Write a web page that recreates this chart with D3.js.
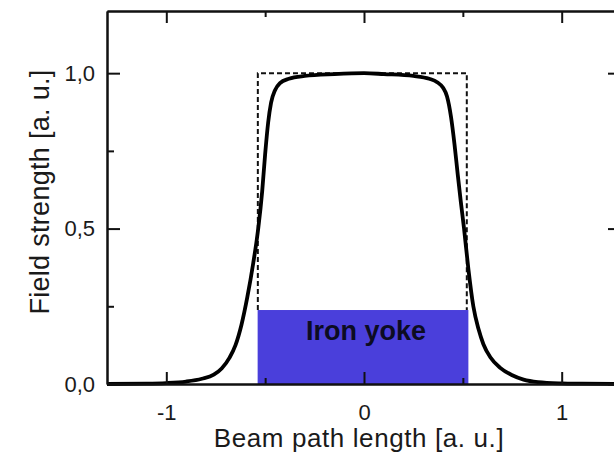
<!DOCTYPE html>
<html>
<head>
<meta charset="utf-8">
<script src="https://cdn.jsdelivr.net/npm/d3@7"></script>
<style>
  body { margin: 0; background: #fff; }
  text { font-family: Arial, "Liberation Sans", Helvetica, sans-serif; fill: #1a1a1a; }
</style>
</head>
<body>
<div id="chart"></div>
<script>
// field profile
const fieldX = [-1.3, -1.1, -1.0, -0.9, -0.82, -0.76, -0.72, -0.68, -0.65, -0.62, -0.59, -0.56, -0.535, -0.515,
  -0.5, -0.485, -0.47, -0.45, -0.425, -0.38, -0.3, -0.15, 0, 0.1, 0.25, 0.33, 0.37, 0.4, 0.42, 0.44,
  0.458, 0.474, 0.49, 0.506, 0.528, 0.553, 0.58, 0.604, 0.64, 0.689, 0.75, 0.807, 0.88, 1.0, 1.1, 1.3];
const fieldY = [0, 0.001, 0.003, 0.008, 0.017, 0.03, 0.05, 0.085, 0.125, 0.19, 0.28, 0.39, 0.5, 0.62,
  0.74, 0.84, 0.905, 0.945, 0.968, 0.982, 0.991, 0.997, 1.0, 0.997, 0.991, 0.982, 0.971, 0.953, 0.925, 0.86,
  0.77, 0.675, 0.585, 0.5, 0.37, 0.25, 0.175, 0.128, 0.085, 0.052, 0.028, 0.014, 0.006, 0.002, 0.001, 0];

// ideal hard-edge field and yoke block
const idealStart = -0.537, idealEnd = 0.52, idealLevel = 1.0;
const yokeStart = -0.538, yokeEnd = 0.528, yokeHeight = 0.238;
const yokeLabel = 'Iron yoke';

const xDomain = [-1.3, 1.3];
const yDomain = [0, 1.2];
const xMajor = [-1, 0, 1];
const xMinor = [-0.5, 0.5];
const yMajor = [0, 0.5, 1.0];
const yMinor = [0.25, 0.75];
const xTitle = 'Beam path length [a. u.]';
const yTitle = 'Field strength [a. u.]';

const width = 614, height = 456;
const margin = { left: 107, top: 11, right: -7, bottom: 72 };
const plotW = width - margin.left - margin.right;
const plotH = height - margin.top - margin.bottom;

const svg = d3.select('#chart').append('svg')
  .attr('width', width)
  .attr('height', height);

const g = svg.append('g')
  .attr('transform', `translate(${margin.left},${margin.top})`);

const xScale = d3.scaleLinear().domain(xDomain).range([0, plotW]);
const yScale = d3.scaleLinear().domain(yDomain).range([plotH, 0]);

// yoke block
g.append('rect')
  .attr('x', xScale(yokeStart))
  .attr('y', yScale(yokeHeight))
  .attr('width', xScale(yokeEnd) - xScale(yokeStart))
  .attr('height', yScale(0) - yScale(yokeHeight))
  .attr('fill', '#4a3fdb');

g.append('text')
  .attr('x', xScale((yokeStart + yokeEnd) / 2) + 3)
  .attr('y', yScale(yokeHeight) + 30)
  .attr('text-anchor', 'middle')
  .style('font-size', '27px')
  .style('font-weight', 'bold')
  .style('fill', '#0c0c22')
  .text(yokeLabel);

// dashed ideal profile
const ideal = [[idealStart, yokeHeight], [idealStart, idealLevel], [idealEnd, idealLevel], [idealEnd, yokeHeight]];
g.append('path')
  .datum(ideal)
  .attr('d', d3.line().x(d => xScale(d[0])).y(d => yScale(d[1])))
  .attr('fill', 'none')
  .attr('stroke', '#111')
  .attr('stroke-width', 2)
  .attr('stroke-dasharray', '5,3');

// measured field curve
const pts = fieldX.map((x, i) => [x, fieldY[i]]);
g.append('path')
  .datum(pts)
  .attr('d', d3.line().curve(d3.curveMonotoneX).x(d => xScale(d[0])).y(d => yScale(d[1])))
  .attr('fill', 'none')
  .attr('stroke', '#000')
  .attr('stroke-width', 3.8)
  .attr('stroke-linejoin', 'round');

// frame axes, ticks inward
function styleAxis(sel) {
  sel.select('.domain').attr('stroke', '#111').attr('stroke-width', 2);
  sel.selectAll('.tick line').attr('stroke', '#111').attr('stroke-width', 2);
  sel.selectAll('.tick text').style('font-size', '22px').style('fill', '#1a1a1a')
    .attr('font-family', null);
}

const fmt = d => d3.format('.1f')(d).replace('.', ',');

g.append('g')
  .attr('transform', `translate(0,${plotH})`)
  .call(d3.axisBottom(xScale).tickValues(xMajor).tickSizeInner(-12).tickSizeOuter(0).tickPadding(20)
    .tickFormat(d => d < 0 ? '-' + Math.abs(d) : d))
  .call(styleAxis);

g.append('g')
  .attr('transform', `translate(0,${plotH})`)
  .call(d3.axisBottom(xScale).tickValues(xMinor).tickSizeInner(-6).tickSizeOuter(0).tickFormat(''))
  .call(styleAxis);

g.append('g')
  .call(d3.axisTop(xScale).tickValues(xMajor).tickSizeInner(-12).tickSizeOuter(0).tickFormat(''))
  .call(styleAxis);

g.append('g')
  .call(d3.axisTop(xScale).tickValues(xMinor).tickSizeInner(-6).tickSizeOuter(0).tickFormat(''))
  .call(styleAxis);

g.append('g')
  .call(d3.axisLeft(yScale).tickValues(yMajor).tickSizeInner(-13).tickSizeOuter(0).tickPadding(12).tickFormat(fmt))
  .call(styleAxis);

g.append('g')
  .call(d3.axisLeft(yScale).tickValues(yMinor).tickSizeInner(-7).tickSizeOuter(0).tickFormat(''))
  .call(styleAxis);

g.append('g')
  .attr('transform', `translate(${plotW},0)`)
  .call(d3.axisRight(yScale).tickValues(yMajor).tickSizeInner(-13).tickSizeOuter(0).tickFormat(''))
  .call(styleAxis);

g.append('g')
  .attr('transform', `translate(${plotW},0)`)
  .call(d3.axisRight(yScale).tickValues(yMinor).tickSizeInner(-7).tickSizeOuter(0).tickFormat(''))
  .call(styleAxis);

// axis titles
svg.append('text')
  .attr('x', 359)
  .attr('y', 447)
  .attr('text-anchor', 'middle')
  .style('font-size', '26px')
  .style('letter-spacing', '0.6px')
  .text(xTitle);

svg.append('text')
  .attr('transform', 'translate(49,192) rotate(-90)')
  .attr('text-anchor', 'middle')
  .style('font-size', '27px')
  .style('letter-spacing', '0.3px')
  .text(yTitle);
</script>
</body>
</html>
